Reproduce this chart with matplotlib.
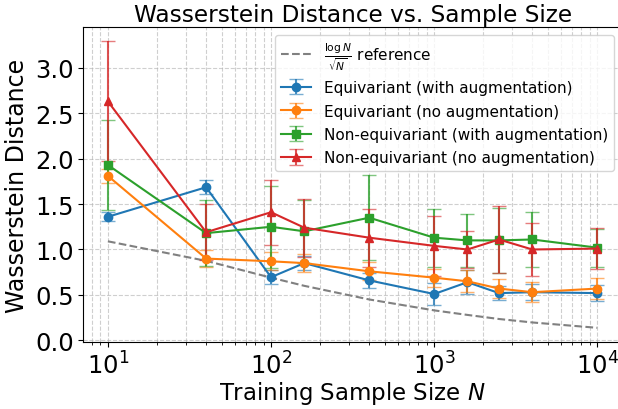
import numpy as np
import matplotlib.pyplot as plt
from matplotlib.ticker import MultipleLocator

# sample sizes
N = [10, 40, 100, 160, 400, 1000, 1600, 2500, 4000, 10000]

# reference curve
ref = [1.09, 0.875, 0.69, 0.60, 0.45, 0.33, 0.28, 0.235, 0.197, 0.138]

eq_aug = [1.36, 1.685, 0.695, 0.85, 0.66, 0.51, 0.64, 0.52, 0.53, 0.52]
eq_aug_err = [0.05, 0.075, 0.08, 0.08, 0.08, 0.12, 0.13, 0.08, 0.09, 0.09]

eq_noaug = [1.81, 0.90, 0.87, 0.85, 0.76, 0.69, 0.65, 0.57, 0.53, 0.57]
eq_noaug_err = [0.08, 0.09, 0.10, 0.10, 0.10, 0.10, 0.12, 0.10, 0.11, 0.12]

neq_aug = [1.93, 1.18, 1.25, 1.20, 1.35, 1.13, 1.10, 1.10, 1.11, 1.02]
neq_aug_err = [0.50, 0.36, 0.45, 0.35, 0.47, 0.32, 0.29, 0.36, 0.30, 0.21]

neq_noaug = [2.63, 1.19, 1.41, 1.24, 1.13, 1.04, 1.00, 1.11, 1.00, 1.01]
neq_noaug_err = [0.66, 0.31, 0.36, 0.32, 0.32, 0.33, 0.20, 0.37, 0.29, 0.23]

fig = plt.figure(figsize=(6.18, 4.10), dpi=100)
ax = fig.add_axes([0.135, 0.163, 0.871, 0.769])

ax.plot(N, ref, '--', color='gray', lw=1.5, label=r'$\frac{\log N}{\sqrt{N}}$ reference')

series = [
    (eq_aug, eq_aug_err, 'o', 'C0', 'Equivariant (with augmentation)'),
    (eq_noaug, eq_noaug_err, 'o', 'C1', 'Equivariant (no augmentation)'),
    (neq_aug, neq_aug_err, 's', 'C2', 'Non-equivariant (with augmentation)'),
    (neq_noaug, neq_noaug_err, '^', 'C3', 'Non-equivariant (no augmentation)'),
]
for y, e, mk, c, lab in series:
    eb = ax.errorbar(N, y, yerr=e, marker=mk, color=c, ms=6, lw=1.5,
                     capsize=5, label=lab)
    for bar in eb[2]:
        bar.set_alpha(0.8)
    for cap in eb[1]:
        cap.set_alpha(0.6)

ax.set_xscale('log')
ax.set_ylim(-0.02, 3.45)
ax.yaxis.set_major_locator(MultipleLocator(0.5))
ax.grid(True, which='both', ls='--', alpha=0.6)
ax.tick_params(labelsize=17.5)
ax.set_xlabel('Training Sample Size $N$', fontsize=16.5, labelpad=0)
ax.set_ylabel('Wasserstein Distance', fontsize=17)
ax.set_title('Wasserstein Distance vs. Sample Size', fontsize=16.7, pad=4)
ax.legend(loc='upper right', fontsize=11, labelspacing=0.55)

fig.savefig('out.png', dpi=100)
